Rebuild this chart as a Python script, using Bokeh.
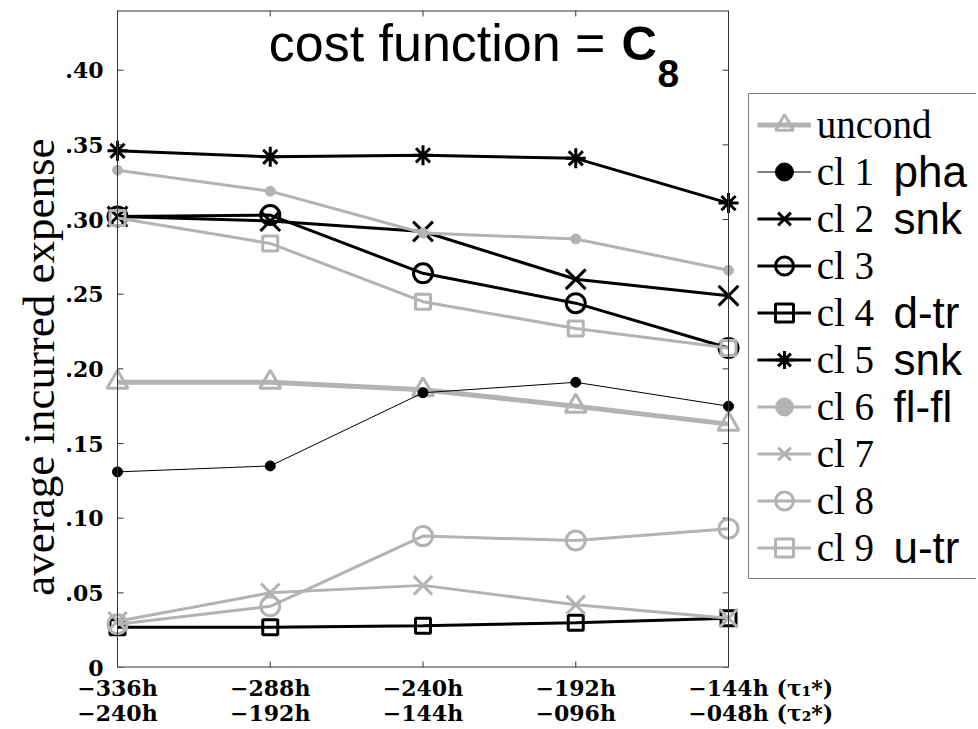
import math
from bokeh.plotting import figure
from bokeh.models import (FixedTicker, Legend, LegendItem, Label, Range1d, Span)
from bokeh.embed import file_html
from bokeh.resources import INLINE

# ---------------- data ----------------
positions = [0, 1, 2, 3, 4]
tau1_labels = ["−336h", "−288h", "−240h", "−192h", "−144h"]
tau2_labels = ["−240h", "−192h", "−144h", "−096h", "−048h"]
tau_names = ["(τ₁*)", "(τ₂*)"]
y_ticks = [0, 0.05, 0.10, 0.15, 0.20, 0.25, 0.30, 0.35, 0.40]
y_tick_labels = ["0", ".05", ".10", ".15", ".20", ".25", ".30", ".35", ".40"]

series_names = ["uncond", "cl 1", "cl 2", "cl 3", "cl 4", "cl 5", "cl 6", "cl 7", "cl 8", "cl 9"]
series_notes = ["", "pha", "snk", "", "d-tr", "snk", "fl-fl", "", "", "u-tr"]

uncond = [0.191, 0.191, 0.186, 0.175, 0.163]
cl1 = [0.131, 0.135, 0.184, 0.191, 0.175]
cl2 = [0.302, 0.299, 0.292, 0.260, 0.249]
cl3 = [0.302, 0.303, 0.264, 0.244, 0.214]
cl4 = [0.027, 0.027, 0.028, 0.030, 0.033]
cl5 = [0.346, 0.342, 0.343, 0.341, 0.311]
cl6 = [0.333, 0.319, 0.291, 0.287, 0.266]
cl7 = [0.031, 0.050, 0.055, 0.042, 0.033]
cl8 = [0.029, 0.041, 0.088, 0.085, 0.093]
cl9 = [0.301, 0.284, 0.245, 0.227, 0.214]
series_values = [uncond, cl1, cl2, cl3, cl4, cl5, cl6, cl7, cl8, cl9]

# ---------------- styles / layout ----------------
GRAY = "#b3b3b3"
BLACK = "#000000"
AXIS = "#333333"
styles = [
    dict(color=GRAY, lw=5, marker="triangle", size=21, fill=None, mlw=3),
    dict(color=BLACK, lw=1, marker="circle", size=10, fill=BLACK, mlw=1),
    dict(color=BLACK, lw=3, marker="x", size=28, fill=None, mlw=3),
    dict(color=BLACK, lw=3, marker="circle", size=19, fill=None, mlw=3),
    dict(color=BLACK, lw=3, marker="square", size=15, fill=None, mlw=3),
    dict(color=BLACK, lw=3, marker="asterisk", size=20, fill=None, mlw=3),
    dict(color=GRAY, lw=3, marker="circle", size=10, fill=GRAY, mlw=1),
    dict(color=GRAY, lw=3, marker="x", size=26, fill=None, mlw=3),
    dict(color=GRAY, lw=3, marker="circle", size=19, fill=None, mlw=3),
    dict(color=GRAY, lw=3, marker="square", size=15, fill=None, mlw=3),
]

BOX_LEFT_PX = 117      # where x = 0 sits on the page
FRAME_LEFT_PX = 105
FRAME_RIGHT_PX = 976
X_UNIT_PX = 611 / 4    # pixels per x unit (box 117..728)
FRAME_TOP_PX = 10
FRAME_H = 657
Y_MAX = 0.44

p = figure(frame_width=FRAME_RIGHT_PX - FRAME_LEFT_PX, frame_height=FRAME_H,
           min_border_left=FRAME_LEFT_PX, min_border_right=0,
           min_border_top=FRAME_TOP_PX, min_border_bottom=61,
           x_range=Range1d((FRAME_LEFT_PX - BOX_LEFT_PX) / X_UNIT_PX,
                           (FRAME_RIGHT_PX - BOX_LEFT_PX) / X_UNIT_PX),
           y_range=Range1d(0, Y_MAX),
           output_backend="svg", toolbar_location=None,
           background_fill_color="white", border_fill_color="white")
p.xgrid.grid_line_color = None
p.ygrid.grid_line_color = None
p.outline_line_color = None

# bottom axis: two-row tick labels, plus the tau names at the right end
tau_pos = 4.5
xa = p.below[0]
xa.ticker = FixedTicker(ticks=positions + [tau_pos])
overrides = {pos: f"{a}\n{b}" for pos, a, b in zip(positions, tau1_labels, tau2_labels)}
overrides[tau_pos] = "\n".join(tau_names)
xa.major_label_overrides = overrides
xa.axis_line_color = None
xa.major_tick_line_color = None
xa.minor_tick_line_color = None
xa.major_label_text_font = "DejaVu Serif"
xa.major_label_text_font_style = "bold"
xa.major_label_text_font_size = "22px"
xa.major_label_text_color = "black"
xa.major_label_text_line_height = 0.98
xa.major_label_standoff = 1

ya = p.left[0]
ya.ticker = FixedTicker(ticks=y_ticks)
ya.major_label_overrides = dict(zip(y_ticks, y_tick_labels))
ya.axis_line_color = None
ya.major_tick_line_color = None
ya.minor_tick_line_color = None
ya.major_label_text_font = "DejaVu Serif"
ya.major_label_text_font_style = "bold"
ya.major_label_text_font_size = "22px"
ya.major_label_text_color = "black"
ya.major_label_standoff = -4
ya.axis_label = "average incurred expense" + "\u00a0" * 5
ya.axis_label_text_font = "Liberation Serif"
ya.axis_label_text_font_style = "normal"
ya.axis_label_text_font_size = "45px"
ya.axis_label_text_color = "black"
ya.axis_label_standoff = -2

# plot box edges and inward ticks on all four sides
p.add_layout(Span(location=positions[0], dimension="height", line_color=AXIS, line_width=1))
p.add_layout(Span(location=positions[-1], dimension="height", line_color=AXIS, line_width=1))
p.segment(x0=[positions[0]] * 2, y0=[0, Y_MAX], x1=[positions[-1]] * 2, y1=[0, Y_MAX],
          line_color=AXIS, line_width=2)
p.ray(x=[positions[0]] * len(y_ticks), y=y_ticks, length=6, length_units="screen",
      angle=0, line_color=AXIS, line_width=1)
p.ray(x=[positions[-1]] * len(y_ticks), y=y_ticks, length=6, length_units="screen",
      angle=math.pi, line_color=AXIS, line_width=1)
p.ray(x=positions, y=[0] * len(positions), length=6, length_units="screen",
      angle=math.pi / 2, line_color=AXIS, line_width=1)
p.ray(x=positions, y=[Y_MAX] * len(positions), length=6, length_units="screen",
      angle=-math.pi / 2, line_color=AXIS, line_width=1)

items = []
for name, vals, st in zip(series_names, series_values, styles):
    rl = p.line(positions, vals, line_color=st["color"], line_width=st["lw"])
    rm = p.scatter(positions, vals, marker=st["marker"], size=st["size"],
                   line_color=st["color"], line_width=st["mlw"],
                   fill_color=st["fill"] if st["fill"] else None)
    items.append(LegendItem(label=name, renderers=[rl, rm]))

LEG_LEFT_PX = 747.7
LEG_BOTTOM_PX = 579
frame_bottom_px = FRAME_TOP_PX + FRAME_H
legend = Legend(items=items,
                location=(LEG_LEFT_PX - FRAME_LEFT_PX, frame_bottom_px - LEG_BOTTOM_PX),
                margin=0, padding=8, spacing=2,
                glyph_width=54, glyph_height=45, label_height=45, label_standoff=6,
                label_width=220,
                label_text_font="Liberation Serif", label_text_font_size="39px",
                label_text_color="black",
                border_line_color="black", border_line_width=1,
                background_fill_color="white", background_fill_alpha=0.0)
p.add_layout(legend)

# cluster notes next to the legend entries
ROW0_PX = 123.5
ROW_STEP = 47
for i, note in enumerate(series_notes):
    if note:
        p.add_layout(Label(x=positions[-1], y=0, x_offset=893 - 728,
                           y_offset=frame_bottom_px - (ROW0_PX + ROW_STEP * i),
                           text=note, text_font="Liberation Sans", text_font_size="44px",
                           text_baseline="middle", text_align="left", text_color="black",
                           level="overlay"))

# in-plot title: cost function = C_8
p.add_layout(Label(x=0.99, y=0.4184, text="cost function =", text_font="Liberation Sans",
                   text_font_size="52px", text_baseline="middle", text_align="left",
                   text_color="black"))
p.add_layout(Label(x=3.30, y=0.4184, text="C", text_font="Liberation Sans",
                   text_font_size="49px", text_font_style="bold",
                   text_baseline="middle", text_align="left", text_color="black"))
p.add_layout(Label(x=3.535, y=0.3975, text="8", text_font="Liberation Sans",
                   text_font_size="39px", text_font_style="bold",
                   text_baseline="middle", text_align="left", text_color="black"))

open("out.html", "w").write(file_html(p, INLINE))
